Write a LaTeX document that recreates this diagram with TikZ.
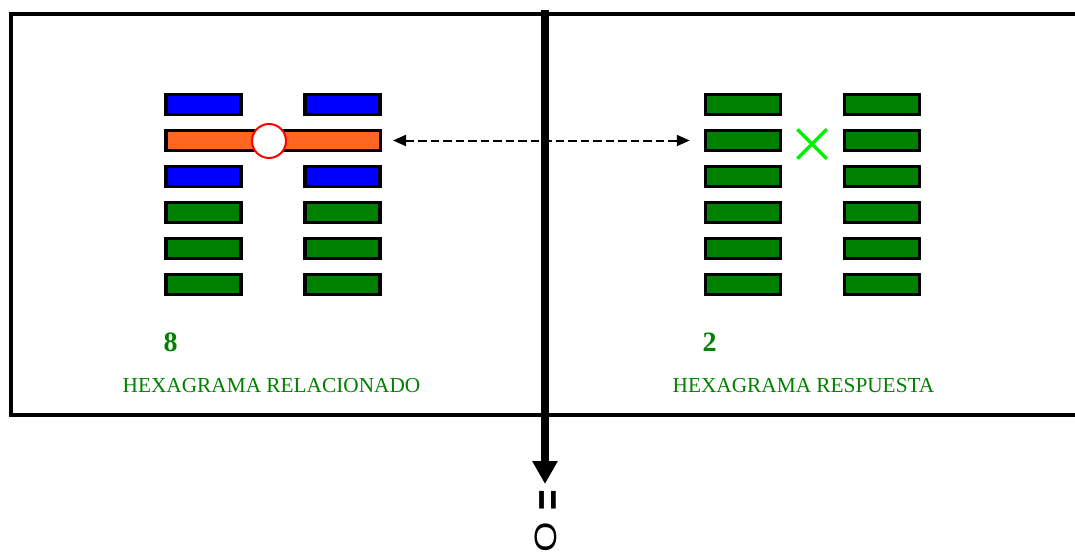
\documentclass[tikz,border=0pt]{standalone}
\usepackage{fontspec}
\setmainfont{Liberation Serif}
\newfontfamily\arialfont{Liberation Sans}
\usepackage{tikz}
\usetikzlibrary{arrows.meta,shapes.misc}

\definecolor{linegreen}{RGB}{0,128,0}
\definecolor{lineblue}{RGB}{0,0,255}
\definecolor{lineorange}{RGB}{255,102,34}
\definecolor{crossgreen}{RGB}{0,240,0}
\definecolor{textgreen}{RGB}{0,128,0}

\tikzset{
  linea/.style={draw=black, line width=3.5pt, minimum width=75pt, minimum height=20pt, inner sep=0pt},
  yang/.style={linea, fill=linegreen},
  yin/.style={linea, fill=lineblue},
  mutante/.style={linea, fill=lineorange, minimum width=214.5pt},
  numero/.style={text=textgreen, font=\fontsize{28}{28}\selectfont\bfseries},
  titulo/.style={text=textgreen, font=\fontsize{21.3}{21.3}\selectfont, anchor=base},
  vertical/.style={rotate=90, inner sep=0pt}
}

\begin{document}
\begin{tikzpicture}[x=1pt, y=-1pt]
        \useasboundingbox (0,0) rectangle (1075,554);

        % Draw the frame (open on the right)
        \draw[line width=4pt] (1075,14) -- (11,14) -- (11,415) -- (1075,415);

        % Related hexagram (left)
        \node[yin] (rel1a) at (203.5,104.5) {};
        \node[yin] (rel1b) at (342.5,104.5) {};
        \node[mutante] (rel2) at (273,140.5) {};
        \node[yin] (rel3a) at (203.5,176.5) {};
        \node[yin] (rel3b) at (342.5,176.5) {};
        \foreach \i/\y in {4/212.5,5/248.5,6/284.5}{
            \node[yang] (rel\i a) at (203.5,\y) {};
            \node[yang] (rel\i b) at (342.5,\y) {};
        }
        % mark the moving line
        \node[circle, draw=red, fill=white, line width=2pt, minimum size=34pt, inner sep=0pt] (mov) at (269,141) {};

        % Answer hexagram (right)
        \foreach \i/\y in {1/104.5,2/140.5,3/176.5,4/212.5,5/248.5,6/284.5}{
            \node[yang] (res\i a) at (743,\y) {};
            \node[yang] (res\i b) at (882,\y) {};
        }
        \node[cross out, draw=crossgreen, line width=3.5pt, minimum size=26pt, inner sep=0pt] (cambio) at (812,144) {};

        % link between the two hexagrams
        \draw[line width=2pt, dash pattern=on 8.5pt off 4pt, {Triangle[length=13pt,width=11pt]}-{Triangle[length=13pt,width=11pt]},
              shorten <=11pt, shorten >=14pt] (rel2.east) -- (res2a.west);

        % numbers and titles
        \node[numero] (num1) at (170.5,342.5) {8};
        \node[numero] (num2) at (709.5,342.5) {2};
        \node[titulo] (tit1) at (271.5,392) {HEXAGRAMA RELACIONADO};
        \node[titulo] (tit2) at (803.5,392) {HEXAGRAMA RESPUESTA};

        % the vertical divider, pointing at the result
        \coordinate (cima) at (545,10);
        \coordinate (punta) at (545,484);
        \draw[line width=8pt, -{Triangle[length=23pt,width=24pt]}] (cima) -- (punta);
        \node[vertical, font=\arialfont\bfseries\fontsize{44}{44}\selectfont] (igual) at (551,500) {\scalebox{0.8}[1]{=}};
        \node[vertical, font=\arialfont\fontsize{28}{28}\selectfont] (cero) at (545.5,537.5) {\scalebox{1.4}[1.1]{O}};
    \end{tikzpicture}
\end{document}
